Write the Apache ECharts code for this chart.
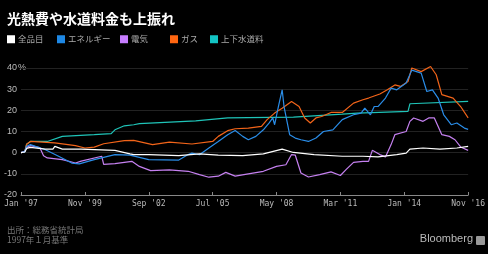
<!DOCTYPE html>
<html><head><meta charset="utf-8">
<script src="https://cdn.jsdelivr.net/npm/echarts@6/dist/echarts.min.js"></script>
<style>html,body{margin:0;padding:0;background:#000;}#c{width:488px;height:254px;}</style>
</head><body><div id="c"></div>
<script>
// month index: 0 = Jan 1997
const xTickLabels = ["Jan '97","Nov '99","Sep '02","Jul '05","May '08","Mar '11","Jan '14","Nov '16"];
const yTicks = [-20,-10,0,10,20,30,40];

const allMonths = [0,2,3,5,13,17,18,22,32,50,58,60,68,84,95,105,118,129,139,145,156,171,182,190,200,205,207,214,223,232,238];
const allValues = [0,0.3,2,2.5,1.7,1.7,3,1.7,1.7,1.1,-0.6,-0.9,-0.9,-1.4,-0.6,-1.2,-1.4,-0.6,1.7,0.1,-0.9,-1.7,-1.7,-2,-0.9,-0.2,1.7,2.2,1.7,2.2,3];

const energyMonths = [0,2,3,5,13,20,27,31,39,50,58,68,84,89,91,95,100,105,110,114,118,121,125,129,132,134,135,137,139,140,143,146,149,153,157,161,166,171,177,181,183,186,188,190,194,197,200,205,208,213,216,219,222,225,229,232,236,238];
const energyValues = [0,0.5,3,3.8,1.4,-1.7,-4.9,-5.3,-3.3,-0.9,-1.2,-3.3,-3.5,-0.9,-0.2,-1.0,2.2,5.3,8.5,10.5,7.7,6.1,7.7,10.8,14,16.4,13.2,21.8,29.7,21.8,8.5,6.9,6.1,5.3,6.9,10,10.8,15.6,17.9,18.7,21,17.9,21.8,21.8,25.8,30.5,29.7,32.9,39,37.6,28.9,29.7,25.8,17.9,13.2,14,11.6,11];

const elecMonths = [0,2,3,5,10,12,14,22,29,32,43,44,50,59,63,69,79,89,95,100,105,109,114,121,129,136,141,144,146,149,153,159,165,170,173,177,182,185,187,191,194,197,199,205,207,209,214,217,220,224,228,231,234,238];
const elecValues = [0,0.5,2.5,3.3,2.4,-1.5,-2.5,-3.3,-4.9,-4,-1.7,-5.5,-5.2,-4.1,-6.5,-8.5,-8.1,-8.8,-10.4,-11.6,-11.1,-9.3,-11.1,-10,-8.8,-6.5,-5.7,-0.9,-1.2,-9.6,-11.5,-10.4,-9.1,-10.8,-8,-4.6,-4.1,-4.1,1.1,-0.9,-2,3.8,8.5,10,14.8,16.4,14.8,16.4,16.4,8.5,7.7,6.1,2.7,1.1];

const gasMonths = [0,2,3,5,18,29,34,39,44,55,60,70,79,91,102,105,110,114,121,128,131,135,139,144,148,151,154,157,160,165,171,177,182,185,191,195,199,202,206,208,213,218,221,224,230,234,238];
const gasValues = [0,0.5,4,5.3,4.6,3.3,2.2,2.6,4.2,5.7,5.8,3.8,5,4.1,5.3,7.7,10.4,11.3,11.6,12.4,15.6,18.7,21,24.2,21.8,16.4,14,16.4,17.1,19,19,23.4,25,25.8,27.7,29.7,32,31.3,33.6,40,38.3,40.7,36.8,27.4,25.8,21.8,16.4];

const waterMonths = [0,2,3,5,14,22,39,48,50,55,60,63,93,110,121,145,146,171,179,206,207,238];
const waterValues = [0,0.3,4,5.3,5.3,7.7,8.5,9,10.8,12.7,13.2,13.7,15,16.4,16.6,16.8,17.5,18.2,18.7,19.5,23.1,24.2];

const seriesNames = ["全品目","エネルギー","電気","ガス","上下水道料"];
const seriesColors = ["#ffffff","#2a8de8","#c580f0","#f26419","#1fc4b8"];
const legendColors = ["#ffffff","#1e88e5","#c77dff","#ff6611","#13c4c4"];
const legendLeft = [7,57,120,170,210];

const pairs = (m, v) => m.map((x, i) => [x, v[i]]);
const seriesData = [
  pairs(allMonths, allValues),
  pairs(energyMonths, energyValues),
  pairs(elecMonths, elecValues),
  pairs(gasMonths, gasValues),
  pairs(waterMonths, waterValues)
];
const order = [4,3,2,1,0];

const chart = echarts.init(document.getElementById('c'), null, {renderer:'canvas'});
const option = {
  backgroundColor: '#000',
  animation: false,
  title: {
    text: '光熱費や水道料金も上振れ', left: 7, top: 12, padding: 0,
    textStyle: {color:'#fff', fontSize:14, fontWeight:'bold', fontFamily:'Noto Sans CJK JP'}
  },
  legend: seriesNames.map((n, i) => ({
    data: [{name: n, itemStyle: {color: legendColors[i]}}],
    left: legendLeft[i], top: 35, padding: 0,
    icon: 'rect', itemWidth: 8, itemHeight: 8, itemGap: 4,
    selectedMode: false,
    textStyle: {color:'#aaa', fontSize:8.5, fontFamily:'Noto Sans CJK JP', padding:[0,0,0,-2]}
  })),
  grid: {left: 21, right: 17, top: 68, bottom: 59},
  xAxis: {
    type: 'value', min: 0, max: 238, interval: 34,
    axisLine: {show: true, onZero: false, lineStyle: {color:'#888', width:1}},
    axisTick: {show: true, inside: true, length: 3, lineStyle: {color:'#888'}},
    splitLine: {show: false},
    axisLabel: {
      color:'#bbb', fontSize: 8, fontFamily: 'DejaVu Sans Mono', margin: 5,
      formatter: v => xTickLabels[Math.round(v/34)] || ''
    }
  },
  yAxis: {
    type: 'value', min: -20, max: 40, interval: 10,
    axisLine: {show:false}, axisTick: {show:false},
    splitLine: {lineStyle: {color:'#222', width:1}},
    axisLabel: {color:'#bbb', fontSize: 9, fontFamily:'Liberation Sans', margin: 4,
      formatter: v => yTicks.includes(v) ? String(v) : ''}
  },
  graphic: [
    {type:'text', left: 18, top: 63, style:{text:'%', fill:'#bbb', font:'9px "Liberation Sans"'}},
    {type:'text', left: 7, top: 226, style:{text:'出所：総務省統計局', fill:'#777', font:'8.5px "Noto Sans CJK JP"'}},
    {type:'text', left: 7, top: 236, style:{text:'1997年１月基準', fill:'#777', font:'8.5px "Noto Sans CJK JP"'}},
    {type:'text', right: 15, top: 233, style:{text:'Bloomberg', fill:'#bbb', font:'11px "Liberation Sans"'}},
    {type:'rect', right: 3, top: 236, shape:{width:9, height:9, r:1}, style:{fill:'#999'}}
  ],
  series: order.map(i => ({
    name: seriesNames[i], type: 'line', data: seriesData[i],
    showSymbol: false, clip: false,
    lineStyle: {color: seriesColors[i], width: 1.2},
    itemStyle: {color: seriesColors[i]},
    z: 2
  }))
};
chart.setOption(option);
</script></body></html>
